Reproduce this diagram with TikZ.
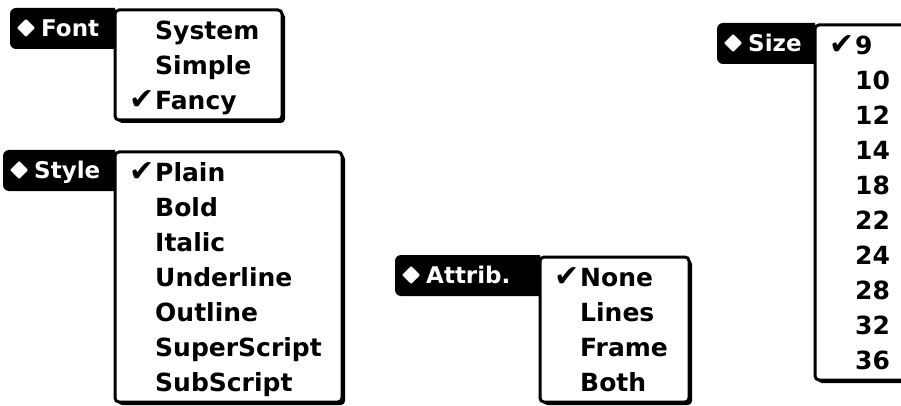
\documentclass[tikz,border=0pt]{standalone}
\usepackage{fontspec}
\setmainfont{DejaVu Sans}
\tikzset{
  itemtxt/.style={anchor=base west, inner sep=0pt, font=\fontsize{25}{25}\selectfont\bfseries, text=black},
  labtxt/.style={anchor=base west, inner sep=0pt, font=\fontsize{23}{23}\selectfont\bfseries, text=white},
  chk/.style={anchor=base east, inner sep=0pt, font=\fontsize{30}{30}\selectfont, text=black},
  menubox/.style={draw=black, line width=3pt, fill=white, rounded corners=4pt},
  shadowbox/.style={fill=black, rounded corners=4pt},
  labelbox/.style={fill=black},
  diam/.style={fill=white, rounded corners=1pt},
}
% #1 id, #2 label left, #3 menu left, #4 top, #5 right, #6 label, #7 number of items, #8 items
\newcommand\mkmenu[8]{%
  \pgfmathsetmacro\mbot{#4+35*#7+5}
  \fill[labelbox] (#3,#4-2) [rounded corners=6pt] -- (#2,#4-2) -- (#2,#4+39) [sharp corners] -- (#3,#4+39) -- cycle;
  \fill[shadowbox] (#3+3,#4+3) rectangle (#5+3,\mbot+3);
  \draw[menubox] (#3,#4) rectangle (#5,\mbot);
  \fill[diam] (#2+16,#4+9) -- (#2+25,#4+18) -- (#2+16,#4+27) -- (#2+7,#4+18) -- cycle;
  \node[labtxt] (#1-lab) at (#2+31,#4+26.4) {#6};
  \foreach \t/\c [count=\i] in {#8} {
    \pgfmathsetmacro\yb{#4+20+35*(\i-1)+9.1}
    \node[itemtxt] (#1-\i) at (#3+40,\yb) {\t};
    \ifnum\c=1 \node[chk] (#1-chk) at (#3+40,\yb) {✔};\fi
  }
}
\begin{document}
\begin{tikzpicture}[x=1pt,y=-1pt]
\useasboundingbox (0,0) rectangle (901,406);
\clip (0,0) rectangle (901,406);
\fill[white] (0,0) rectangle (901,406);
\mkmenu{font}{10}{115}{10}{282}{Font}{3}{System/0,Simple/0,Fancy/1}
\mkmenu{style}{3}{115}{152}{342}{Style}{7}{Plain/1,Bold/0,Italic/0,Underline/0,Outline/0,SuperScript/0,SubScript/0}
\mkmenu{attrib}{395}{540}{257}{689}{Attrib.}{4}{None/1,Lines/0,Frame/0,Both/0}
\mkmenu{size}{717}{815}{25}{915}{Size}{10}{9/1,10/0,12/0,14/0,18/0,22/0,24/0,28/0,32/0,36/0}
\end{tikzpicture}
\end{document}
